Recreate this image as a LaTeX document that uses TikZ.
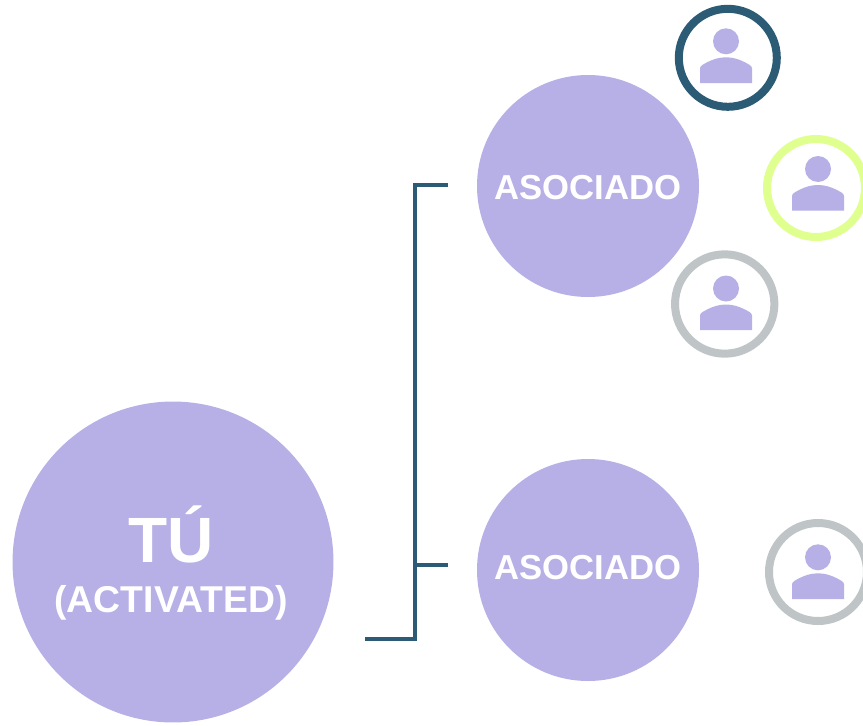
\documentclass[tikz,border=0pt]{standalone}
\usepackage{fontspec}
\setmainfont{Liberation Sans}
\definecolor{lav}{HTML}{B6B0E6}
\definecolor{teal}{HTML}{2B5B75}
\definecolor{lime}{HTML}{DFFF8F}
\definecolor{greyring}{HTML}{BFC5C6}
\tikzset{
  bubble/.style={circle,fill=lav,draw=none,inner sep=0pt},
  label/.style={text=white,inner sep=0pt,anchor=base},
  ring/.style={circle,draw=#1,line width=6pt,fill=white,minimum size=73.5pt,inner sep=0pt},
  bracket/.style={draw=teal,line width=3pt},
  person/.pic={
    \fill[lav] (0,0) circle (13);
    \fill[lav] (-26,41.7) -- (-26,27) .. controls (-26,24.5) and (-22,22.5) .. (-19,21) .. controls (-13,18) and (-7,16) .. (0,16) .. controls (7,16) and (13,18) .. (19,21) .. controls (22,22.5) and (26,24.5) .. (26,27) -- (26,41.7) -- cycle;
  }
}
\begin{document}
\begin{tikzpicture}[x=0.75pt,y=-0.75pt]
\useasboundingbox (0,0) rectangle (863,725);
\fill[white] (0,0) rectangle (863,725);
\node[bubble,minimum size=240.7pt] (you) at (173,562) {};
\node[label,font=\bfseries\fontsize{48}{48}\selectfont] (youa) at (171,562.3) {TÚ};
\node[label,font=\bfseries\fontsize{28}{28}\selectfont] (youb) at (171,612.7) {(ACTIVATED)};
\node[bubble,minimum size=166.5pt] (a1) at (588,186) {};
\node[bubble,minimum size=166.5pt] (a2) at (588,570) {};
\node[label,font=\bfseries\fontsize{26}{26}\selectfont] (a1t) at (588,199.5) {ASOCIADO};
\node[label,font=\bfseries\fontsize{26}{26}\selectfont] (a2t) at (588,579.5) {ASOCIADO};
\coordinate (bs) at (365,639);
\coordinate (bc) at (415,639);
\coordinate (bt) at (415,185);
\coordinate (e1) at (448,185);
\coordinate (bm) at (415,565);
\coordinate (e2) at (448,565);
\draw[bracket,line join=miter] (bs) -- (bc) -- (bt) -- (e1);
\draw[bracket] (bm) -- (e2);
\node[ring=teal] (r1) at (727.8,57.8) {};
\node[ring=lime] (r2) at (816,188) {};
\node[ring=greyring,minimum size=74.5pt] (r3) at (724.7,304) {};
\node[ring=greyring] (r4) at (818,572) {};
\pic at (726,41.3) {person};
\pic at (818,169) {person};
\pic at (726,288.5) {person};
\pic at (818,557.3) {person};
\end{tikzpicture}
\end{document}
